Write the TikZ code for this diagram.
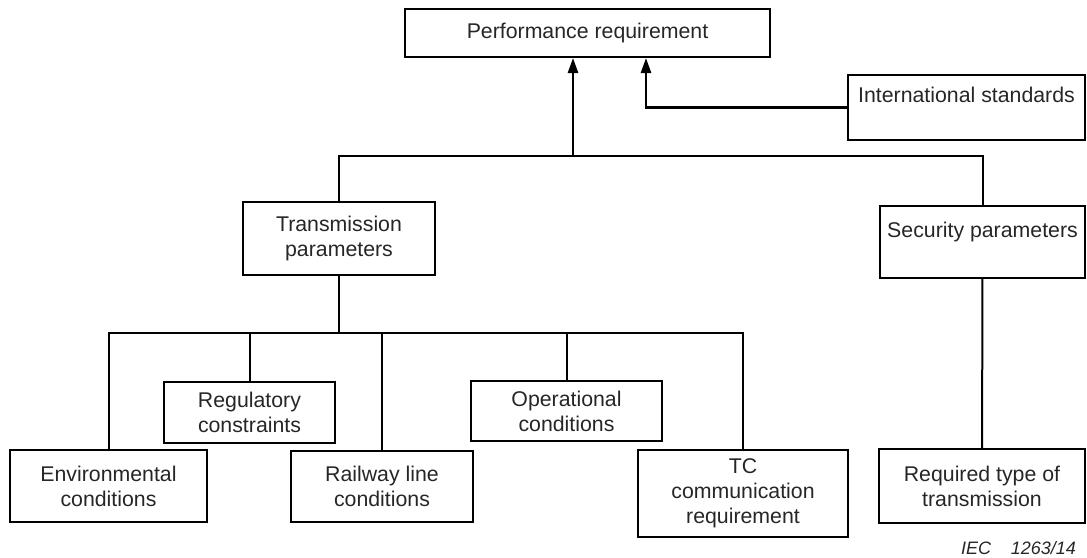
\documentclass[tikz,border=0pt]{standalone}
\usepackage{fontspec}
\setmainfont{Liberation Sans}
\usetikzlibrary{arrows.meta}

\begin{document}
\begin{tikzpicture}[x=0.5pt, y=-0.5pt,
  bx/.style={draw, line width=1pt, align=center, inner sep=0pt, text=black!85,
    font=\fontsize{10.65}{12.5}\selectfont},
  wire/.style={line width=1pt},
  arr/.style={line width=1.3pt, -{Triangle[length=7.5pt,width=5pt]}}]
\useasboundingbox (0,0) rectangle (1087,557);
% top level
\node(perf) [bx, minimum width=182.5pt, minimum height=24pt] at (587.5,33) {Performance requirement};
\node(intl) [bx, minimum width=118.5pt, minimum height=32.5pt] at (966.5,107.5) {International standards\\~};
\node(trans) [bx, minimum width=96pt, minimum height=36.5pt] at (339,238.5) {Transmission\\parameters};
\node(secu) [bx, minimum width=102.5pt, minimum height=36pt] at (982.5,242) {Security parameters\\~};
% bottom level
\node(env) [bx, minimum width=98.5pt, minimum height=36pt] at (108.5,486) {Environmental\\conditions};
\node(reg) [bx, minimum width=85.5pt, minimum height=30.5pt] at (249.5,412.5) {Regulatory\\constraints};
\node(rail) [bx, minimum width=91pt, minimum height=35.5pt] at (382,486.5) {Railway line\\conditions};
\node(oper) [bx, minimum width=95.5pt, minimum height=30pt] at (566.5,411) {Operational\\conditions};
\node(tc) [bx, minimum width=105pt, minimum height=43.5pt] at (743,493.5) {TC\\communication\\requirement};
\node(req) [bx, minimum width=103pt, minimum height=37pt] at (982,486) {Required type of\\transmission};
\node(iec) [anchor=east, text=black!85, font=\fontsize{9}{10}\selectfont\itshape] at (1083,548) {IEC\hspace{1.1em}1263/14};

\coordinate(top) at (573,156);
\coordinate(low) at (339,333);

% connectors
\draw[arr] (top) -- (top |- perf.south);
\draw[arr] (intl.west) -| (perf.south -| 646,0);
\draw[wire] (trans.north) |- (top) -| (secu.north);
\draw[wire] (trans.south) -- (low);
\draw[wire] (env.north) |- (low) -| (tc.north);
\draw[wire] (low) -| (reg.north);
\draw[wire] (low) -| (rail.north);
\draw[wire] (low) -| (oper.north);
\draw[wire] (secu) -- (req);
\end{tikzpicture}
\end{document}
